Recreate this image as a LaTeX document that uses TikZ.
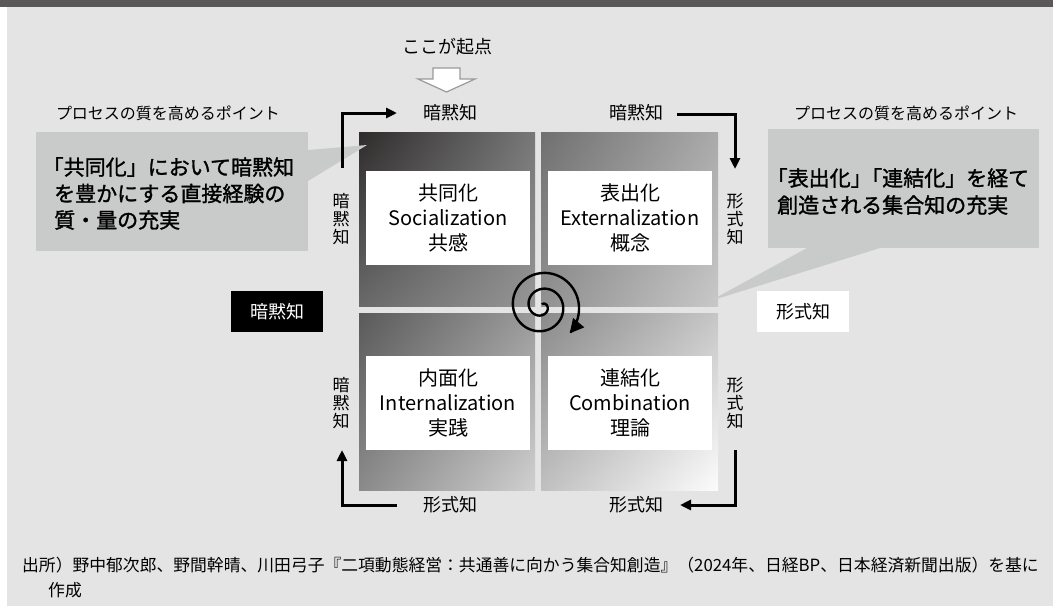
\documentclass[tikz,border=0pt]{standalone}
\usepackage{fontspec}
\setmainfont{Noto Sans CJK JP}
\newfontfamily\calfont[FakeBold=1.4]{Noto Sans CJK JP}
\usetikzlibrary{arrows.meta,shadings}
\definecolor{bgc}{HTML}{E4E4E4}
\definecolor{barc}{HTML}{595757}
\definecolor{callc}{HTML}{C9CACA}
\definecolor{startc}{HTML}{9A9A9A}
\definecolor{qa1}{HTML}{2E2B2B}\definecolor{qa2}{HTML}{787878}\definecolor{qa3}{HTML}{696969}\definecolor{qa4}{HTML}{969696}
\definecolor{qb1}{HTML}{707070}\definecolor{qb2}{HTML}{AAAAAA}\definecolor{qb3}{HTML}{919191}\definecolor{qb4}{HTML}{C8C8C8}
\definecolor{qc1}{HTML}{5A5A5A}\definecolor{qc2}{HTML}{9B9B9B}\definecolor{qc3}{HTML}{8A8A8A}\definecolor{qc4}{HTML}{D0D0D0}
\definecolor{qd1}{HTML}{8A8A8A}\definecolor{qd2}{HTML}{C6C6C6}\definecolor{qd3}{HTML}{C0C0C0}\definecolor{qd4}{HTML}{FCFCFC}
\begin{document}
\begin{tikzpicture}[x=1pt,y=-1pt,
  lbl/.style={inner sep=0pt,font=\fontsize{18}{20}\selectfont},
  ptlbl/.style={inner sep=0pt,font=\fontsize{16}{18}\selectfont},
  vlbl/.style={inner sep=0pt,align=center,font=\fontsize{17}{18}\selectfont},
  quadbox/.style={fill=white,minimum width=164pt,minimum height=94pt,inner sep=0pt,align=center,font=\fontsize{20}{25}\selectfont},
  flow/.style={line width=3pt,-{Triangle[length=11pt,width=10pt]}},
  callout/.style={fill=callc},
  calltext/.style={inner sep=0pt,anchor=west,font=\calfont\fontsize{21}{27}\selectfont},
  sidebox/.style={minimum width=92pt,minimum height=41pt,inner sep=0pt,font=\fontsize{18}{20}\selectfont},
  ]
\useasboundingbox (0,0) rectangle (1053,606);
\fill[white] (0,0) rectangle (1053,606);
\fill[bgc] (7,0) rectangle (1053,606);
\fill[barc] (0,0) rectangle (1053,7);

% quadrants
\shade[upper left=qa1, upper right=qa2, lower left=qa3, lower right=qa4] (359,132) rectangle (535,306);
\shade[upper left=qb1, upper right=qb2, lower left=qb3, lower right=qb4] (541,132) rectangle (718,306);
\shade[upper left=qc1, upper right=qc2, lower left=qc3, lower right=qc4] (359,313) rectangle (535,490);
\shade[upper left=qd1, upper right=qd2, lower left=qd3, lower right=qd4] (541,313) rectangle (718,490);

% quadrant boxes
\node[quadbox] (soc) at (448,218) {共同化\\Socialization\\共感};
\node[quadbox] (ext) at (630,218) {表出化\\Externalization\\概念};
\node[quadbox] (int) at (448,403) {内面化\\Internalization\\実践};
\node[quadbox] (com) at (630,403) {連結化\\Combination\\理論};

% callouts
\fill[callout] (36,132) rectangle (308,251);
\fill[callout] (308,150) -- (367,145) -- (308,181) -- cycle;
\node[calltext] (cl1) at (53,167) {\kern-.5em「共同化」において暗黙知};
\node[calltext] (cl2) at (54,193.5) {を豊かにする直接経験の};
\node[calltext] (cl3) at (54,220) {質・量の充実};
\fill[callout] (768,129) rectangle (1039,248);
\fill[callout] (807,248) -- (710,301) -- (880,248) -- cycle;
\node[calltext] (cr1) at (777,178) {\kern-.5em「表出化」\kern-.5em「連結化」を経て};
\node[calltext] (cr2) at (777,205) {創造される集合知の充実};

\node[ptlbl] (ptl) at (168,113) {プロセスの質を高めるポイント};
\node[ptlbl] (ptr) at (906,113) {プロセスの質を高めるポイント};

% start marker
\node[lbl] (start) at (447,47) {ここが起点};
\draw[startc,fill=white,line width=1.2pt,line join=miter]
  (433,68) -- (460,68) -- (460,79) -- (475,79) -- (446.5,92) -- (418,79) -- (433,79) -- cycle;

% edge labels
\node[lbl] (tt1) at (450,113) {暗黙知};
\node[lbl] (tt2) at (636,113) {暗黙知};
\node[lbl] (bt1) at (450,505) {形式知};
\node[lbl] (bt2) at (636,505) {形式知};
\node[vlbl] (lv1) at (341,219) {暗\\黙\\知};
\node[vlbl] (rv1) at (735,219) {形\\式\\知};
\node[vlbl] (lv2) at (341,403) {暗\\黙\\知};
\node[vlbl] (rv2) at (735,403) {形\\式\\知};

\node[sidebox,fill=black,text=white] (tacit) at (277,311.5) {暗黙知};
\node[sidebox,fill=white,text=black] (explicit) at (803,311.5) {形式知};

% flow arrows
\coordinate (a1s) at (342,168); \coordinate (a1e) at (397,113);
\coordinate (a2s) at (677,114); \coordinate (a2e) at (735,169);
\coordinate (a3s) at (735,450); \coordinate (a3e) at (680,505);
\coordinate (a4s) at (397,505); \coordinate (a4e) at (342,450);
\draw[flow] (a1s) |- (a1e);
\draw[flow] (a2s) -| (a2e);
\draw[flow] (a3s) |- (a3e);
\draw[flow] (a4s) -| (a4e);

% spiral
\draw[line width=2.4pt,-{Triangle[length=14pt,width=14pt]}]
  plot[domain=-1.5:13.35,samples=300,smooth] ({542+(1.5+2.52*(\x+1.5))*cos(\x r)},{306+(1.5+2.52*(\x+1.5))*sin(\x r)});

% source
\node[inner sep=0pt,anchor=west,font=\fontsize{16.8}{20}\selectfont] (src1) at (22,565) {出所）野中郁次郎、野間幹晴、川田弓子『二項動態経営：共通善に向かう集合知創造』（2024年、日経BP、日本経済新聞出版）を基に};
\node[inner sep=0pt,anchor=west,font=\fontsize{16.8}{20}\selectfont] (src2) at (48,590) {作成};
\end{tikzpicture}
\end{document}
